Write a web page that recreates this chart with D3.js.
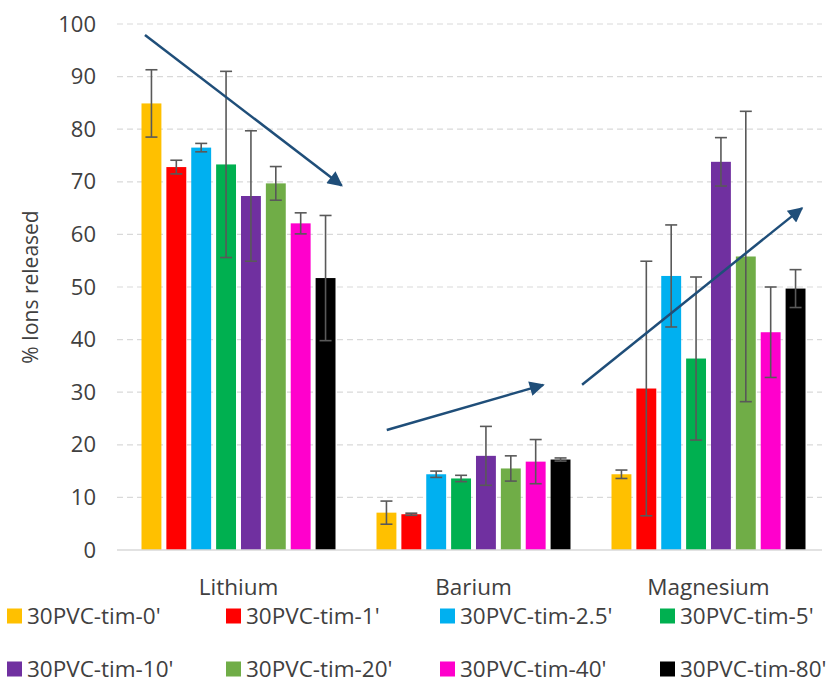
<!DOCTYPE html>
<html>
<head>
<meta charset="utf-8">
<script src="https://cdn.jsdelivr.net/npm/d3@7"></script>
<style>
  html, body { margin: 0; padding: 0; background: #ffffff; }
  svg { display: block; font-family: "Open Sans", "Noto Sans", sans-serif; }
</style>
</head>
<body>
<svg id="chart" width="836" height="689"></svg>
<script>
// Ion release per membrane, grouped by ion
const ions = ["Lithium", "Barium", "Magnesium"];
const series = ["30PVC-tim-0'", "30PVC-tim-1'", "30PVC-tim-2.5'", "30PVC-tim-5'",
                "30PVC-tim-10'", "30PVC-tim-20'", "30PVC-tim-40'", "30PVC-tim-80'"];
const colors = ["#FFC000", "#FF0000", "#00B0F0", "#00B050",
                "#7030A0", "#70AD47", "#FF00CC", "#000000"];

// % ions released, one array per ion (same order as series)
const lithium   = [84.9, 72.8, 76.5, 73.3, 67.3, 69.7, 62.1, 51.7];
const barium    = [7.1, 6.8, 14.4, 13.6, 17.9, 15.5, 16.8, 17.2];
const magnesium = [14.4, 30.7, 52.1, 36.4, 73.8, 55.8, 41.4, 49.7];

// standard deviations
const lithiumErr   = [6.4, 1.3, 0.8, 17.7, 12.4, 3.2, 2.0, 11.9];
const bariumErr    = [2.2, 0.2, 0.6, 0.6, 5.6, 2.4, 4.2, 0.3];
const magnesiumErr = [0.8, 24.2, 9.7, 15.5, 4.6, 27.6, 8.6, 3.6];

const yTicks = [0, 10, 20, 30, 40, 50, 60, 70, 80, 90, 100];

// trend arrows: [ion, fraction across the ion's slot, value]
const trendArrows = [
  { from: ["Lithium", 0.102, 97.9], to: ["Lithium", 0.939, 69.3] },
  { from: ["Barium", 0.131, 22.8],  to: ["Barium", 0.797, 31.4] },
  { from: ["Barium", 0.962, 31.4],  to: ["Magnesium", 0.898, 65.0] }
];

const values = [lithium, barium, magnesium];
const errors = [lithiumErr, bariumErr, magnesiumErr];

const svg = d3.select("#chart");
const plotLeft = 121, plotRight = 826, plotTop = 24, plotBottom = 550;

const x0 = d3.scaleBand().domain(ions).range([plotLeft, plotRight]).padding(0);
const groupPad = 20.5;
const x1 = d3.scaleBand().domain(series)
  .range([groupPad, x0.bandwidth() - groupPad]).paddingInner(0.2).paddingOuter(0);
const y = d3.scaleLinear().domain([0, 100]).range([plotBottom, plotTop]);

const textColor = "#404040";

// gridlines
svg.append("g")
  .selectAll("line")
  .data(yTicks.filter(t => t > 0))
  .join("line")
  .attr("x1", plotLeft - 4).attr("x2", plotRight - 4)
  .attr("y1", d => y(d)).attr("y2", d => y(d))
  .attr("stroke", "#d9d9d9").attr("stroke-width", 1.2)
  .attr("stroke-dasharray", "6,4");

// y axis labels
const yAxis = d3.axisLeft(y).tickValues(yTicks).tickSize(0).tickPadding(0);
const yg = svg.append("g").attr("transform", `translate(96,0)`).call(yAxis);
yg.select(".domain").remove();
yg.selectAll("text")
  .attr("font-size", 22).attr("fill", textColor)
  .attr("font-family", "'Open Sans', sans-serif");

// y title
svg.append("text")
  .attr("transform", `translate(38,${(plotTop + plotBottom) / 2}) rotate(-90)`)
  .attr("text-anchor", "middle")
  .attr("font-size", 21).attr("fill", textColor)
  .text("% Ions released");

// bars
const rows = ions.map((ion, i) => ({ ion, vals: values[i], errs: errors[i] }));
const groups = svg.append("g").selectAll("g")
  .data(rows).join("g")
  .attr("transform", d => `translate(${x0(d.ion)},0)`);

groups.selectAll("rect")
  .data(d => d.vals.map((v, j) => ({ s: series[j], v, c: colors[j] })))
  .join("rect")
  .attr("x", d => x1(d.s)).attr("width", x1.bandwidth())
  .attr("y", d => y(d.v)).attr("height", d => y(0) - y(d.v))
  .attr("fill", d => d.c);

// error bars
const capW = 12;
const eb = groups.selectAll("g.err")
  .data(d => d.vals.map((v, j) => ({ s: series[j], v, e: d.errs[j] })))
  .join("g").attr("class", "err")
  .attr("stroke", "#595959").attr("stroke-width", 1.6);
eb.append("line")
  .attr("x1", d => x1(d.s) + x1.bandwidth() / 2).attr("x2", d => x1(d.s) + x1.bandwidth() / 2)
  .attr("y1", d => y(d.v + d.e)).attr("y2", d => y(d.v - d.e));
eb.append("line")
  .attr("x1", d => x1(d.s) + x1.bandwidth() / 2 - capW / 2).attr("x2", d => x1(d.s) + x1.bandwidth() / 2 + capW / 2)
  .attr("y1", d => y(d.v + d.e)).attr("y2", d => y(d.v + d.e));
eb.append("line")
  .attr("x1", d => x1(d.s) + x1.bandwidth() / 2 - capW / 2).attr("x2", d => x1(d.s) + x1.bandwidth() / 2 + capW / 2)
  .attr("y1", d => y(d.v - d.e)).attr("y2", d => y(d.v - d.e));

// baseline
svg.append("line")
  .attr("x1", plotLeft - 4).attr("x2", plotRight - 4)
  .attr("y1", y(0)).attr("y2", y(0))
  .attr("stroke", "#d9d9d9").attr("stroke-width", 1.5);

// category labels
svg.append("g").selectAll("text")
  .data(ions).join("text")
  .attr("x", d => x0(d) + x0.bandwidth() / 2)
  .attr("y", 587).attr("dy", "0.35em")
  .attr("text-anchor", "middle")
  .attr("font-size", 22.5).attr("fill", textColor)
  .text(d => d);

// trend arrows
const arrowColor = "#1F4E79";
svg.append("defs").append("marker")
  .attr("id", "head")
  .attr("viewBox", "0 0 10 10")
  .attr("refX", 9).attr("refY", 5)
  .attr("markerWidth", 7).attr("markerHeight", 6)
  .attr("markerUnits", "strokeWidth")
  .attr("orient", "auto")
  .append("path").attr("d", "M0,0 L10,5 L0,10 Z").attr("fill", arrowColor);

const px = p => x0(p[0]) + p[1] * x0.step();
svg.append("g").selectAll("line")
  .data(trendArrows).join("line")
  .attr("x1", d => px(d.from)).attr("y1", d => y(d.from[2]))
  .attr("x2", d => px(d.to)).attr("y2", d => y(d.to[2]))
  .attr("stroke", arrowColor).attr("stroke-width", 2.5)
  .attr("marker-end", "url(#head)");

// legend, 4 columns x 2 rows
const legCols = [27, 246, 460, 680];
const legRows = [616, 669];
const sq = 15;
const leg = svg.append("g").selectAll("g")
  .data(series).join("g")
  .attr("transform", (d, i) => `translate(${legCols[i % 4]},${legRows[Math.floor(i / 4)]})`);
leg.append("rect")
  .attr("x", -sq - 5).attr("y", -sq / 2).attr("width", sq).attr("height", sq)
  .attr("fill", (d, i) => colors[i]);
leg.append("text")
  .attr("x", 0).attr("dy", "0.35em")
  .attr("font-size", 22.5).attr("fill", textColor)
  .text(d => d);
</script>
</body>
</html>
